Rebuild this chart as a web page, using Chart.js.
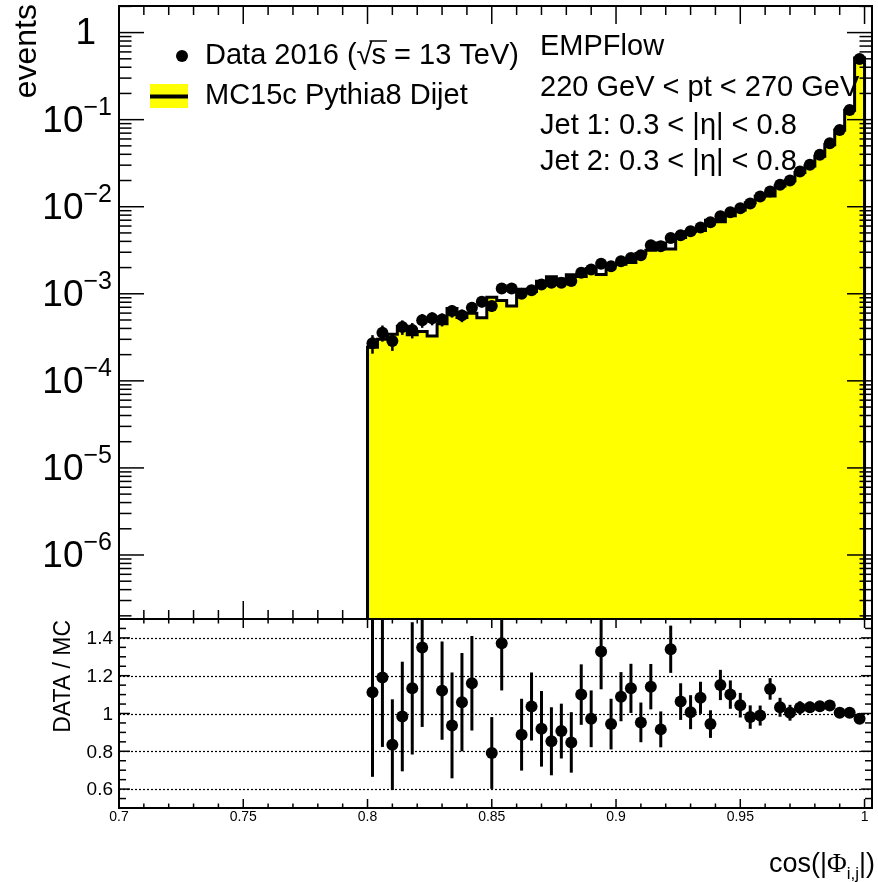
<!DOCTYPE html>
<html>
<head>
<meta charset="utf-8">
<script src="https://cdn.jsdelivr.net/npm/chart.js@4.4.0/dist/chart.umd.min.js"></script>
<style>
  html, body { margin: 0; padding: 0; background: #fff; }
  #wrap { position: relative; width: 878px; height: 882px; }
  #wrap canvas { position: absolute; left: 0; top: 0; }
</style>
</head>
<body>
<div id="wrap">
  <canvas id="mainPlot" width="878" height="882"></canvas>
  <canvas id="ratioPlot" width="878" height="882"></canvas>
</div>
<script>
// histogram binning (50 bins between 0.8 and 1.0)
const binLo = 0.8, binHi = 1.0, nBins = 50;

const mcValues = [
  2.43e-4, 3.00e-4, 3.44e-4, 4.23e-4, 3.39e-4, 3.68e-4, 3.28e-4, 4.53e-4, 6.77e-4, 5.33e-4,
  5.96e-4, 5.31e-4, 9.14e-4, 8.38e-4, 7.23e-4, 1.13e-3, 1.06e-3, 1.39e-3, 1.57e-3, 1.48e-3,
  1.65e-3, 1.58e-3, 1.95e-3, 1.66e-3, 2.19e-3, 2.18e-3, 2.28e-3, 2.91e-3, 3.16e-3, 3.84e-3,
  3.27e-3, 4.42e-3, 5.18e-3, 5.33e-3, 7.01e-3, 6.74e-3, 7.85e-3, 9.18e-3, 1.11e-2, 1.32e-2,
  1.33e-2, 1.73e-2, 1.99e-2, 2.47e-2, 2.93e-2, 3.81e-2, 5.14e-2, 7.59e-2, 0.128, 0.510
];
const dataValues = [
  2.70e-4, 3.57e-4, 2.87e-4, 4.16e-4, 3.84e-4, 4.96e-4, 5.23e-4, 5.08e-4, 6.34e-4, 5.65e-4,
  6.91e-4, 8.10e-4, 7.23e-4, 1.15e-3, 1.15e-3, 1.00e-3, 1.10e-3, 1.28e-3, 1.34e-3, 1.34e-3,
  1.40e-3, 1.74e-3, 1.90e-3, 2.21e-3, 2.07e-3, 2.37e-3, 2.58e-3, 2.77e-3, 3.61e-3, 3.52e-3,
  4.38e-3, 4.70e-3, 5.22e-3, 5.77e-3, 6.62e-3, 7.76e-3, 8.63e-3, 9.58e-3, 1.09e-2, 1.31e-2,
  1.50e-2, 1.79e-2, 2.00e-2, 2.54e-2, 3.03e-2, 3.95e-2, 5.36e-2, 7.62e-2, 0.129, 0.496
];
// relative statistical error of the data
const dataRelErr = [
  0.24, 0.21, 0.23, 0.19, 0.20, 0.18, 0.17, 0.17, 0.16, 0.165,
  0.15, 0.14, 0.145, 0.115, 0.115, 0.125, 0.12, 0.11, 0.107, 0.107,
  0.105, 0.094, 0.09, 0.083, 0.086, 0.08, 0.077, 0.075, 0.066, 0.066,
  0.059, 0.057, 0.054, 0.051, 0.048, 0.044, 0.042, 0.04, 0.037, 0.034,
  0.032, 0.029, 0.027, 0.024, 0.023, 0.019, 0.017, 0.014, 0.011, 0.0057
];
const ratioValues = [
  1.112, 1.191, 0.835, 0.984, 1.133, 1.349, 1.59, 1.121, 0.937, 1.06,
  1.16, 1.53, 0.791, 1.372, 1.59, 0.888, 1.037, 0.919, 0.853, 0.907,
  0.847, 1.10, 0.972, 1.328, 0.944, 1.089, 1.133, 0.953, 1.142, 0.916,
  1.34, 1.063, 1.007, 1.083, 0.944, 1.151, 1.10, 1.044, 0.981, 0.989,
  1.13, 1.033, 1.004, 1.03, 1.033, 1.038, 1.042, 1.004, 1.004, 0.972
];
const ratioErrors = [
  0.447, 0.368, 0.24, 0.29, 0.35, 0.42, 0.40, 0.26, 0.28, 0.26,
  0.25, 0.30, 0.19, 0.25, 0.25, 0.19, 0.18, 0.20, 0.18, 0.145,
  0.16, 0.16, 0.15, 0.20, 0.134, 0.13, 0.13, 0.105, 0.12, 0.095,
  0.125, 0.097, 0.09, 0.085, 0.073, 0.08, 0.075, 0.065, 0.062, 0.053,
  0.057, 0.05, 0.042, 0.035, 0.03, 0.025, 0.02, 0.015, 0.012, 0.008
];

const xTicks = [0.7, 0.75, 0.8, 0.85, 0.9, 0.95, 1.0];
const xTickLabels = ['0.7', '0.75', '0.8', '0.85', '0.9', '0.95', '1'];
const yDecades = [-6, -5, -4, -3, -2, -1, 0];
const ratioTicks = [0.6, 0.8, 1.0, 1.2, 1.4];
const ratioTickLabels = ['0.6', '0.8', '1', '1.2', '1.4'];
const infoLines = ['EMPFlow', '220 GeV < pt < 270 GeV', 'Jet 1: 0.3 < |η| < 0.8', 'Jet 2: 0.3 < |η| < 0.8'];

const xMin = 0.7, xMax = 1.003;
const yMin = 1.84e-7, yMax = 2.02;
const rMin = 0.5, rMax = 1.5;

const FONT = '"Liberation Sans", Arial, Helvetica, sans-serif';
const SERIF = '"Liberation Serif", "Times New Roman", serif';

const edges = Array.from({ length: nBins + 1 }, (_, i) => binLo + i * (binHi - binLo) / nBins);
const centers = edges.slice(0, nBins).map((e, i) => (e + edges[i + 1]) / 2);

// step outline of the MC histogram, closed down to the axis minimum
const mcStep = [{ x: binLo, y: yMin }]
  .concat(mcValues.map((v, i) => ({ x: edges[i], y: v })))
  .concat([{ x: binHi, y: mcValues[nBins - 1] }, { x: binHi, y: yMin }]);

const dataPts = dataValues.map((v, i) => ({ x: centers[i], y: v }));
const ratioPts = ratioValues.map((v, i) => ({ x: centers[i], y: (v >= rMin && v <= rMax) ? v : null }));

function seg(ctx, x1, y1, x2, y2) {
  ctx.beginPath();
  ctx.moveTo(x1, y1);
  ctx.lineTo(x2, y2);
  ctx.stroke();
}

// x ticks along one horizontal edge; dir = 1 points down, -1 points up
function xTickMarks(ctx, xs, yEdge, dir, majorLen, minorLen) {
  for (let i = 0; i <= 30; i++) {
    const v = 0.7 + i * 0.01;
    const len = (i % 5 === 0) ? majorLen : minorLen;
    const px = xs.getPixelForValue(v);
    seg(ctx, px, yEdge, px, yEdge + dir * len);
  }
}

const mainDecor = {
  id: 'mainDecor',
  beforeDatasetsDraw(chart) {
    const { ctx, chartArea: a, scales: { x } } = chart;
    ctx.save();
    ctx.strokeStyle = '#000';
    ctx.lineWidth = 1.5;
    xTickMarks(ctx, x, a.bottom, -1, 18, 9);
    ctx.restore();
  },
  afterDatasetsDraw(chart) {
    const { ctx, chartArea: a, scales: { x, y } } = chart;
    ctx.save();
    ctx.strokeStyle = '#000';
    ctx.fillStyle = '#000';

    // data error bars
    ctx.lineWidth = 2.5;
    dataValues.forEach((v, i) => {
      const e = v * dataRelErr[i];
      const px = x.getPixelForValue(centers[i]);
      seg(ctx, px, y.getPixelForValue(v + e), px, y.getPixelForValue(v - e));
    });

    // frame
    ctx.lineWidth = 2;
    ctx.strokeRect(a.left, a.top, a.right - a.left, a.bottom - a.top);

    // x ticks along the top edge
    ctx.lineWidth = 1.5;
    xTickMarks(ctx, x, a.top, 1, 18, 9);

    // log y ticks on both sides
    for (let d = -7; d <= 0; d++) {
      for (let k = 1; k <= 9; k++) {
        const v = k * Math.pow(10, d);
        if (v < yMin || v > yMax) continue;
        const py = y.getPixelForValue(v);
        const len = k === 1 ? 25 : 12.5;
        seg(ctx, a.left, py, a.left + len, py);
        seg(ctx, a.right, py, a.right - len, py);
      }
    }

    // y tick labels
    const right = 112;
    ctx.textBaseline = 'middle';
    yDecades.forEach(d => {
      const py = y.getPixelForValue(Math.pow(10, d));
      if (d === 0) {
        ctx.font = '37px ' + FONT;
        ctx.textAlign = 'right';
        ctx.fillText('1', 96, py + 1);
        return;
      }
      const sup = '\u2212' + (-d);
      ctx.font = '25px ' + FONT;
      const supW = ctx.measureText(sup).width;
      ctx.textAlign = 'left';
      ctx.fillText(sup, right - supW, py - 12);
      ctx.font = '37px ' + FONT;
      const baseW = ctx.measureText('10').width;
      ctx.fillText('10', right - supW - baseW, py + 2);
    });

    // axis title
    ctx.save();
    ctx.translate(36, 4);
    ctx.rotate(-Math.PI / 2);
    ctx.font = '32px ' + FONT;
    ctx.textAlign = 'right';
    ctx.textBaseline = 'alphabetic';
    ctx.fillText('events', 0, 0);
    ctx.restore();

    // legend
    ctx.font = '29px ' + FONT;
    ctx.textAlign = 'left';
    ctx.textBaseline = 'middle';
    ctx.beginPath();
    ctx.arc(182, 56, 6, 0, Math.PI * 2);
    ctx.fill();
    let tx = 205;
    const ly = 56;
    const part1 = 'Data 2016 (';
    ctx.fillText(part1, tx, ly);
    tx += ctx.measureText(part1).width;
    ctx.fillText('\u221A', tx, ly);
    tx += ctx.measureText('\u221A').width - 1;
    const sW = ctx.measureText('s').width;
    ctx.fillText('s', tx, ly);
    ctx.lineWidth = 1.5;
    seg(ctx, tx - 2, ly - 15, tx + sW + 1, ly - 15);
    tx += sW;
    ctx.fillText(' = 13 TeV)', tx, ly);

    ctx.fillStyle = '#ffff00';
    ctx.fillRect(150, 84, 38, 24);
    ctx.fillStyle = '#000';
    ctx.fillRect(150, 94.5, 38, 4);
    ctx.fillText('MC15c Pythia8 Dijet', 205, 96);

    // selection labels
    const infoY = [47, 88, 126, 162];
    infoLines.forEach((s, i) => ctx.fillText(s, 540, infoY[i]));

    ctx.restore();
  }
};

const ratioDecor = {
  id: 'ratioDecor',
  beforeDatasetsDraw(chart) {
    const { ctx, chartArea: a, scales: { x, y } } = chart;
    ctx.save();
    ctx.strokeStyle = '#000';
    // dotted reference lines
    ctx.lineWidth = 1.2;
    ctx.setLineDash([2, 2]);
    ratioTicks.forEach(v => {
      const py = Math.round(y.getPixelForValue(v)) + 0.5;
      seg(ctx, a.left, py, a.right, py);
    });
    ctx.setLineDash([]);
    // error bars, clipped to the pad
    ctx.beginPath();
    ctx.rect(a.left, a.top, a.right - a.left, a.bottom - a.top);
    ctx.clip();
    ctx.lineWidth = 3;
    ratioValues.forEach((v, i) => {
      if (v < rMin || v > rMax) return;
      const px = x.getPixelForValue(centers[i]);
      seg(ctx, px, y.getPixelForValue(v + ratioErrors[i]), px, y.getPixelForValue(v - ratioErrors[i]));
    });
    ctx.restore();
  },
  afterDatasetsDraw(chart) {
    const { ctx, chartArea: a, scales: { x, y } } = chart;
    ctx.save();
    ctx.strokeStyle = '#000';
    ctx.fillStyle = '#000';
    ctx.lineWidth = 2;
    ctx.strokeRect(a.left, a.top, a.right - a.left, a.bottom - a.top);

    ctx.lineWidth = 1.5;
    xTickMarks(ctx, x, a.top, 1, 9, 4.5);
    xTickMarks(ctx, x, a.bottom, -1, 9, 4.5);

    for (let i = 0; i <= 20; i++) {
      const v = 0.5 + i * 0.05;
      const py = y.getPixelForValue(v);
      const len = (i % 4 === 2) ? 11 : 7;
      seg(ctx, a.left, py, a.left + len, py);
      seg(ctx, a.right, py, a.right - len, py);
    }

    // y labels
    ctx.font = '19px ' + FONT;
    ctx.textAlign = 'right';
    ctx.textBaseline = 'middle';
    ratioTicks.forEach((v, i) => ctx.fillText(ratioTickLabels[i], 113, y.getPixelForValue(v) + 1));

    // x labels
    ctx.font = '14px ' + FONT;
    ctx.textAlign = 'center';
    ctx.textBaseline = 'middle';
    xTicks.forEach((v, i) => ctx.fillText(xTickLabels[i], x.getPixelForValue(v), a.bottom + 9));

    // y title
    ctx.save();
    ctx.translate(70, 620);
    ctx.rotate(-Math.PI / 2);
    ctx.font = '23px ' + FONT;
    ctx.textAlign = 'right';
    ctx.textBaseline = 'alphabetic';
    ctx.fillText('DATA / MC', 0, 0);
    ctx.restore();

    // x title: cos(|Φ_{i,j}|)
    ctx.textBaseline = 'alphabetic';
    ctx.textAlign = 'left';
    const by = 872;
    const pieces = [
      ['cos(|', '27px ' + FONT, 0],
      ['\u03A6', '27px ' + SERIF, 0],
      ['i,j', '17px ' + FONT, 7],
      ['|)', '27px ' + FONT, 0]
    ];
    let total = 0;
    pieces.forEach(p => { ctx.font = p[1]; total += ctx.measureText(p[0]).width; });
    let tx = 875 - total;
    pieces.forEach(p => {
      ctx.font = p[1];
      ctx.fillText(p[0], tx, by + p[2]);
      tx += ctx.measureText(p[0]).width;
    });
    ctx.restore();
  }
};

new Chart(document.getElementById('mainPlot'), {
  type: 'line',
  data: {
    datasets: [
      {
        label: 'Data 2016',
        data: dataPts,
        showLine: false,
        pointRadius: 6,
        pointBackgroundColor: '#000',
        pointBorderWidth: 0,
        order: 0
      },
      {
        label: 'MC15c Pythia8 Dijet',
        data: mcStep,
        stepped: true,
        fill: 'start',
        backgroundColor: '#ffff00',
        borderColor: '#000',
        borderWidth: 3,
        pointRadius: 0,
        order: 1
      }
    ]
  },
  options: {
    responsive: false,
    animation: false,
    events: [],
    layout: { padding: { left: 119, right: 4, top: 4, bottom: 263 } },
    plugins: { legend: { display: false }, tooltip: { enabled: false } },
    scales: {
      x: { type: 'linear', min: xMin, max: xMax, bounds: 'data', display: false },
      y: { type: 'logarithmic', min: yMin, max: yMax, bounds: 'data', display: false }
    }
  },
  plugins: [mainDecor]
});

new Chart(document.getElementById('ratioPlot'), {
  type: 'line',
  data: {
    datasets: [{
      label: 'DATA / MC',
      data: ratioPts,
      showLine: false,
      pointRadius: 6,
      pointBackgroundColor: '#000',
      pointBorderWidth: 0
    }]
  },
  options: {
    responsive: false,
    animation: false,
    events: [],
    layout: { padding: { left: 119, right: 4, top: 619, bottom: 74 } },
    plugins: { legend: { display: false }, tooltip: { enabled: false } },
    scales: {
      x: { type: 'linear', min: xMin, max: xMax, bounds: 'data', display: false },
      y: { type: 'linear', min: rMin, max: rMax, bounds: 'data', display: false }
    }
  },
  plugins: [ratioDecor]
});
</script>
</body>
</html>
